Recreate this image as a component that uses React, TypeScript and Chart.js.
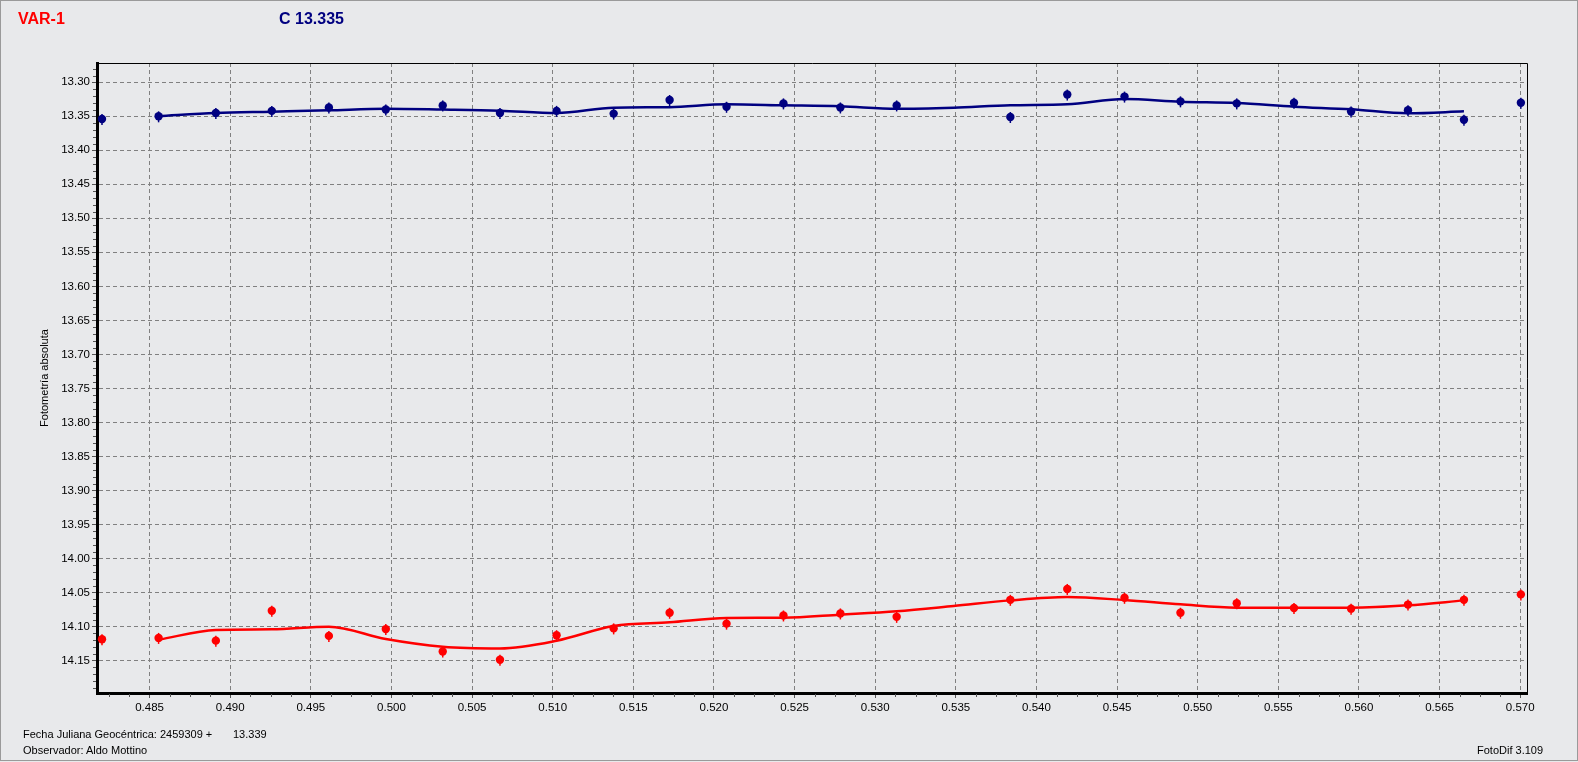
import React, { useEffect, useRef } from "react";
import { Chart, registerables } from "chart.js";

Chart.register(...registerables);

// ---- data ----
const obsX = [
  0.48205, 0.48556, 0.48911, 0.49258, 0.49612, 0.49965, 0.50318, 0.50673, 0.51024,
  0.51378, 0.51725, 0.52078, 0.52431, 0.52784, 0.53133, 0.53838, 0.54191, 0.54546,
  0.54893, 0.55242, 0.55597, 0.55951, 0.56304, 0.56651, 0.57004,
];
const compMag = [
  13.354, 13.350, 13.345, 13.342, 13.337, 13.340, 13.334, 13.345, 13.342,
  13.346, 13.326, 13.336, 13.331, 13.337, 13.334, 13.351, 13.318, 13.321,
  13.328, 13.331, 13.330, 13.343, 13.341, 13.355, 13.330,
];
const varMag = [
  14.119, 14.117, 14.121, 14.077, 14.114, 14.104, 14.137, 14.149, 14.113,
  14.103, 14.080, 14.096, 14.084, 14.081, 14.086, 14.061, 14.045, 14.058,
  14.080, 14.066, 14.073, 14.074, 14.068, 14.061, 14.053,
];
const fitX = [
  0.48556, 0.48911, 0.49258, 0.49612, 0.49965, 0.50318, 0.50673, 0.51024, 0.51378,
  0.51725, 0.52078, 0.52431, 0.52784, 0.53133, 0.53486, 0.53838, 0.54191, 0.54546,
  0.54893, 0.55242, 0.55597, 0.55951, 0.56304, 0.56651,
];
const compFit = [
  13.3496, 13.3451, 13.3432, 13.3412, 13.3388, 13.3400, 13.3417, 13.3451, 13.3373,
  13.3365, 13.3324, 13.3338, 13.3353, 13.3390, 13.3373, 13.3338, 13.3324, 13.3246,
  13.3285, 13.3304, 13.3358, 13.3397, 13.3456, 13.3427,
];
const varFit = [
  14.1196, 14.1054, 14.1044, 14.1005, 14.1186, 14.1299, 14.1324, 14.1211, 14.0995,
  14.0941, 14.0877, 14.0873, 14.0828, 14.0779, 14.0701, 14.0618, 14.0569, 14.0613,
  14.0676, 14.0725, 14.0725, 14.0725, 14.0691, 14.0618,
];
const xTicks = [
  0.485, 0.49, 0.495, 0.5, 0.505, 0.51, 0.515, 0.52, 0.525, 0.53, 0.535, 0.54,
  0.545, 0.55, 0.555, 0.56, 0.565, 0.57,
];
const yTicks = [
  13.3, 13.35, 13.4, 13.45, 13.5, 13.55, 13.6, 13.65, 13.7, 13.75, 13.8, 13.85,
  13.9, 13.95, 14.0, 14.05, 14.1, 14.15,
];
const xMin = 0.48174;
const xMax = 0.57042;
const yMin = 13.2716;
const yMax = 14.198;
const varLabel = "VAR-1";
const compLabel = "C 13.335";
const yTitle = "Fotometría absoluta";
const footerDate = "Fecha Juliana Geocéntrica: 2459309 +";
const footerValue = "13.339";
const footerObserver = "Observador: Aldo Mottino";
const footerApp = "FotoDif 3.109";

const NAVY = "#000080";
const RED = "#ff0000";
const BG = "#e8e9eb";
const FONT = "'Liberation Sans', Arial, sans-serif";

const pts = (xs: number[], ys: number[]) => xs.map((x, i) => ({ x, y: ys[i] }));

const extrasPlugin = {
  id: "extras",
  afterDatasetsDraw(chart: any) {
    const { ctx } = chart;
    ctx.save();
    chart.data.datasets.forEach((ds: any, i: number) => {
      if (!ds.errBar) return;
      const meta = chart.getDatasetMeta(i);
      ctx.strokeStyle = ds.backgroundColor;
      ctx.lineWidth = 1.5;
      meta.data.forEach((el: any) => {
        ctx.beginPath();
        ctx.moveTo(el.x, el.y - 5);
        ctx.lineTo(el.x, el.y + 6);
        ctx.stroke();
      });
    });
    ctx.restore();
  },
  afterDraw(chart: any) {
    const { ctx, chartArea: a } = chart;
    const xs = chart.scales.x;
    const ys = chart.scales.y;
    ctx.save();
    // top & right frame
    ctx.strokeStyle = "#000";
    ctx.lineWidth = 1;
    ctx.beginPath();
    ctx.moveTo(a.left, Math.round(a.top) + 0.5);
    ctx.lineTo(Math.round(a.right) + 0.5, Math.round(a.top) + 0.5);
    ctx.lineTo(Math.round(a.right) + 0.5, a.bottom);
    ctx.stroke();
    // minor ticks
    ctx.strokeStyle = "#555";
    ctx.beginPath();
    for (let k = Math.ceil(xMin / 0.00125); k * 0.00125 <= xMax; k++) {
      if (k % 4 === 0) continue;
      const px = Math.round(xs.getPixelForValue(k * 0.00125)) + 0.5;
      ctx.moveTo(px, a.bottom + 1);
      ctx.lineTo(px, a.bottom + 4);
    }
    for (let k = Math.ceil(yMin / 0.01); k * 0.01 <= yMax; k++) {
      if (k % 5 === 0) continue;
      const py = Math.round(ys.getPixelForValue(k * 0.01)) + 0.5;
      ctx.moveTo(a.left - 4, py);
      ctx.lineTo(a.left - 1, py);
    }
    ctx.stroke();
    ctx.restore();
  },
};

function LightCurve() {
  const ref = useRef<HTMLCanvasElement | null>(null);
  useEffect(() => {
    if (!ref.current) return;
    const chart = new Chart(ref.current, {
      type: "scatter",
      data: {
        datasets: [
          {
            label: "C fit",
            data: pts(fitX, compFit),
            showLine: true,
            borderColor: NAVY,
            borderWidth: 2.5,
            pointRadius: 0,
            cubicInterpolationMode: "monotone",
          } as any,
          {
            label: "VAR fit",
            data: pts(fitX, varFit),
            showLine: true,
            borderColor: RED,
            borderWidth: 2.5,
            pointRadius: 0,
            cubicInterpolationMode: "monotone",
          } as any,
          {
            label: compLabel,
            data: pts(obsX, compMag),
            backgroundColor: NAVY,
            borderWidth: 0,
            pointRadius: 4.2,
            errBar: true,
          } as any,
          {
            label: varLabel,
            data: pts(obsX, varMag),
            backgroundColor: RED,
            borderWidth: 0,
            pointRadius: 4.2,
            errBar: true,
          } as any,
        ],
      },
      options: {
        responsive: false,
        animation: false,
        devicePixelRatio: 1,
        layout: { padding: { left: 0, top: 63, right: 51, bottom: 0 } },
        plugins: { legend: { display: false }, tooltip: { enabled: false } },
        scales: {
          x: {
            type: "linear",
            min: xMin,
            max: xMax,
            afterBuildTicks: (s: any) => {
              s.ticks = xTicks.map((v) => ({ value: v }));
            },
            afterFit: (s: any) => {
              s.height = 69;
            },
            grid: {
              color: "#808080",
              lineWidth: 1,
              tickLength: 5,
              tickColor: "#555",
              tickBorderDash: [],
            },
            border: { display: true, color: "#000", width: 3, dash: [4, 3] },
            ticks: {
              padding: 3,
              color: "#000",
              font: { family: FONT, size: 11.5 },
              callback: (v: any) => Number(v).toFixed(3),
              maxRotation: 0,
              autoSkip: false,
            },
          },
          y: {
            type: "linear",
            reverse: true,
            min: yMin,
            max: yMax,
            afterBuildTicks: (s: any) => {
              s.ticks = yTicks.map((v) => ({ value: v }));
            },
            afterFit: (s: any) => {
              s.width = 97;
            },
            grid: {
              color: "#808080",
              lineWidth: 1,
              tickLength: 5,
              tickColor: "#555",
              tickBorderDash: [],
            },
            border: { display: true, color: "#000", width: 3, dash: [4, 3] },
            ticks: {
              padding: 2,
              color: "#000",
              font: { family: FONT, size: 11.5 },
              callback: (v: any) => Number(v).toFixed(2),
              autoSkip: false,
            },
            title: {
              display: true,
              text: yTitle,
              color: "#000",
              font: { family: FONT, size: 11 },
              padding: { top: 38, bottom: 0 },
            },
          },
        },
      },
      plugins: [extrasPlugin],
    });
    return () => chart.destroy();
  }, []);

  const txt = (extra: React.CSSProperties): React.CSSProperties => ({
    position: "absolute",
    fontFamily: FONT,
    fontSize: 11,
    lineHeight: "13px",
    color: "#000",
    whiteSpace: "nowrap",
    ...extra,
  });

  return (
    <div
      style={{
        position: "fixed",
        left: 0,
        top: 0,
        width: 1578,
        height: 762,
        background: BG,
        overflow: "hidden",
      }}
    >
      <div
        style={{
          position: "absolute",
          left: 0,
          top: 0,
          width: 1576,
          height: 759,
          border: "1px solid #9a9a9a",
        }}
      />
      <canvas
        ref={ref}
        width={1578}
        height={762}
        style={{ position: "absolute", left: 0, top: 0, width: 1578, height: 762 }}
      />
      <div
        style={txt({
          left: 18,
          top: 11,
          fontSize: 16,
          lineHeight: "16px",
          fontWeight: "bold",
          color: RED,
        })}
      >
        {varLabel}
      </div>
      <div
        style={txt({
          left: 279,
          top: 11,
          fontSize: 16,
          lineHeight: "16px",
          fontWeight: "bold",
          color: NAVY,
        })}
      >
        {compLabel}
      </div>
      <div style={txt({ left: 23, top: 728 })}>{footerDate}</div>
      <div style={txt({ left: 233, top: 728 })}>{footerValue}</div>
      <div style={txt({ left: 23, top: 744 })}>{footerObserver}</div>
      <div style={txt({ left: 1477, top: 744 })}>{footerApp}</div>
    </div>
  );
}

export default function App() {
  return <LightCurve />;
}
